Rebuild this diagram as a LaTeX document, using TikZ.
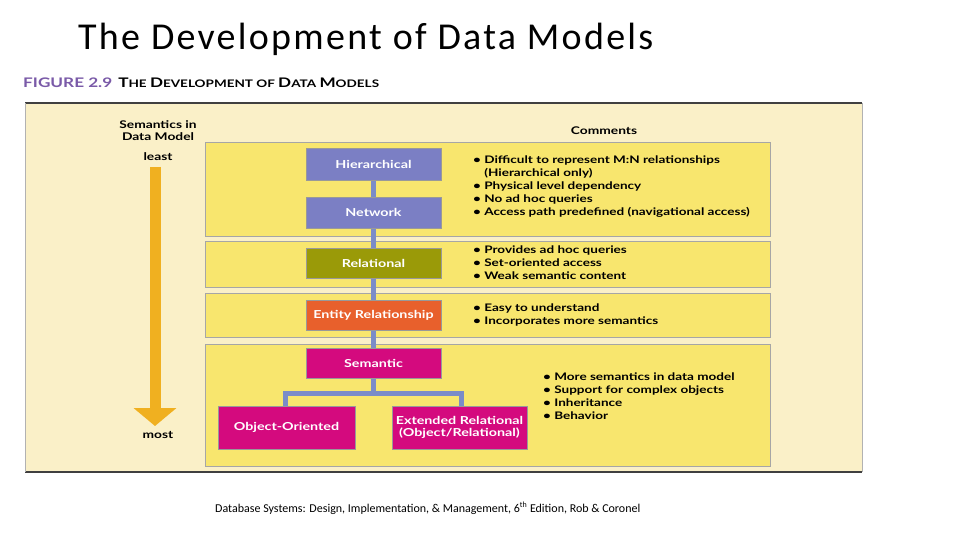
\documentclass[tikz,border=0pt]{standalone}
\usepackage{fontspec}
\setmainfont{Carlito}
\newfontfamily\lato[FakeStretch=1.3]{Lato}
\usetikzlibrary{arrows.meta}
\definecolor{cream}{HTML}{FAF0C8}
\definecolor{band}{HTML}{F8E66E}
\definecolor{bluebox}{HTML}{7B7FC4}
\definecolor{olivebox}{HTML}{9A9A08}
\definecolor{orangebox}{HTML}{E8602C}
\definecolor{magbox}{HTML}{D40A7E}
\definecolor{conn}{HTML}{7B8CC8}
\definecolor{gold}{HTML}{F0B020}
\definecolor{figpurple}{HTML}{7A5AA8}
\tikzset{
 bandbox/.style={fill=band,draw=black!35,line width=0.6pt},
 model/.style={draw=black!40,line width=0.5pt,text=white,font=\lato\bfseries\fontsize{11}{12.5}\selectfont,align=center,inner sep=0pt},
 cmt/.style={anchor=north west,font=\lato\bfseries\fontsize{10.4}{13}\selectfont,align=left,inner sep=0pt},
 lbl/.style={font=\lato\bfseries\fontsize{10.6}{12}\selectfont,align=center,inner sep=0pt},
 link/.style={conn,line width=5pt}
}
\begin{document}
\begin{tikzpicture}[x=1pt,y=-1pt]
\useasboundingbox[fill=white] (0,0) rectangle (960,540);
\node[anchor=base west,inner sep=0pt,font=\fontsize{38}{40}\selectfont\addfontfeatures{LetterSpace=6}] (title) at (78,50) {The Development of Data Models};
\node[anchor=base west,inner sep=0pt,font=\lato\bfseries\fontsize{13.2}{14}\selectfont] (fig) at (23,88) {\textcolor{figpurple}{FIGURE 2.9}\hspace{6pt}T\fontsize{10.4}{12}\selectfont HE \fontsize{13.2}{14}\selectfont D\fontsize{10.4}{12}\selectfont EVELOPMENT OF \fontsize{13.2}{14}\selectfont D\fontsize{10.4}{12}\selectfont ATA \fontsize{13.2}{14}\selectfont M\fontsize{10.4}{12}\selectfont ODELS};
\fill[cream] (25,103) rectangle (862,472);
\draw[black!75,line width=1.5pt] (25,103) -- (862,103);
\draw[black!75,line width=1.5pt] (25,472) -- (862,472);
\draw[black!30] (25,103) -- (25,472);
\draw[black!30] (862,103) -- (862,472);
\draw[bandbox] (205,142) rectangle (770,236);
\draw[bandbox] (205,241) rectangle (770,287);
\draw[bandbox] (205,293) rectangle (770,337);
\draw[bandbox] (205,344) rectangle (770,466);
\node[lbl] (sem) at (158,131) {Semantics in\\Data Model};
\node[lbl] (least) at (158,157) {least};
\node[lbl] (most) at (158,435) {most};
\coordinate (atop) at (155,167);
\coordinate (abot) at (155,426);
\draw[gold,line width=11pt,-{Triangle[width=42pt,length=18pt]}] (atop) -- (abot);
\node[lbl] (comments) at (604,131) {Comments};
\draw[link] (373,164) -- (373,363);
\draw[link] (373,378) -- (373,393) -- (285,393) -- (285,406);
\draw[link] (373,393) -- (461,393) -- (461,406);
\node[model,fill=bluebox,minimum width=135pt,minimum height=32pt] (hier) at (373.5,164) {Hierarchical};
\node[model,fill=bluebox,minimum width=135pt,minimum height=31pt] (net) at (373.5,212.5) {Network};
\node[model,fill=olivebox,minimum width=135pt,minimum height=30pt] (rel) at (373.5,263) {Relational};
\node[model,fill=orangebox,minimum width=135pt,minimum height=30pt] (er) at (373.5,315) {Entity Relationship};
\node[model,fill=magbox,minimum width=135pt,minimum height=30pt] (semantic) at (373.5,363) {Semantic};
\node[model,fill=magbox,minimum width=137pt,minimum height=43pt] (oo) at (286.5,427.5) {Object-Oriented};
\node[model,fill=magbox,minimum width=135pt,minimum height=43pt] (ext) at (459.5,427.5) {Extended Relational\\(Object/Relational)};
\node[cmt] (c1) at (473,155.5) {\textbullet\ Difficult to represent M:N relationships\\\phantom{\textbullet\ }(Hierarchical only)\\\textbullet\ Physical level dependency\\\textbullet\ No ad hoc queries\\\textbullet\ Access path predefined (navigational access)};
\node[cmt] (c2) at (473,245.5) {\textbullet\ Provides ad hoc queries\\\textbullet\ Set-oriented access\\\textbullet\ Weak semantic content};
\node[cmt] (c3) at (473,303.5) {\textbullet\ Easy to understand\\\textbullet\ Incorporates more semantics};
\node[cmt] (c4) at (543,372.5) {\textbullet\ More semantics in data model\\\textbullet\ Support for complex objects\\\textbullet\ Inheritance\\\textbullet\ Behavior};
\node[anchor=base west,inner sep=0pt,font=\fontsize{12}{13}\selectfont] (foot) at (215,512) {Database Systems: Design, Implementation, \& Management, 6\textsuperscript{th} Edition, Rob \& Coronel};
\end{tikzpicture}
\end{document}
